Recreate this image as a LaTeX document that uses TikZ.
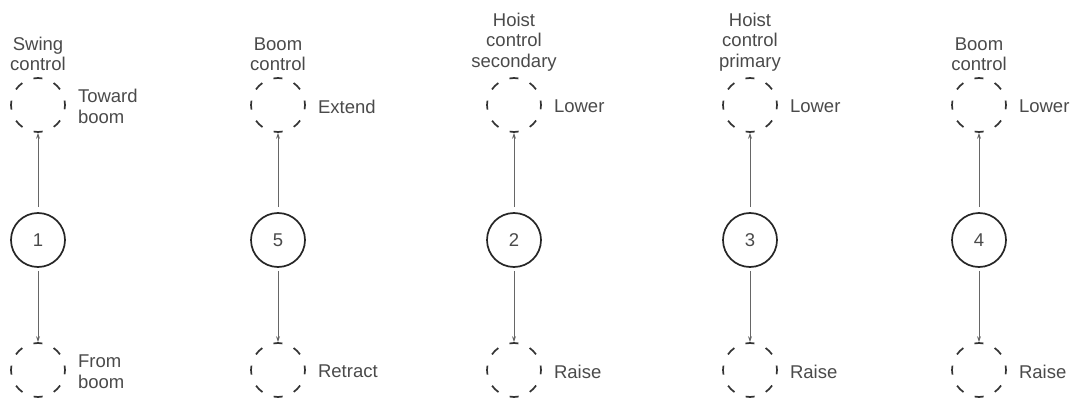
\documentclass[tikz,border=0pt]{standalone}
\usepackage{fontspec}
\setmainfont{Liberation Sans}
\usetikzlibrary{positioning,arrows.meta}
\definecolor{txtgray}{HTML}{4A4A4A}
\begin{document}
\begin{tikzpicture}[x=1pt,y=-1pt,
  ctrl/.style={circle,draw=black!85,line width=1.7pt,minimum size=54pt,inner sep=0pt,text=txtgray,font=\fontsize{18.5}{20.5}\selectfont},
  posn/.style={circle,draw=black!80,line width=1.7pt,minimum size=54pt,inner sep=0pt,dash pattern=on 9pt off 12.2pt,dash phase=4.5pt},
  lbl/.style={text=txtgray,font=\fontsize{18.5}{20.5}\selectfont,align=left,inner sep=0pt},
  ttl/.style={lbl,align=center},
  move/.style={draw=black!60,line width=0.8pt,-{Stealth[length=6pt,width=4pt]}}]
  \useasboundingbox (0,0) rectangle (1070,398);
  % one column per control lever
  \foreach \x/\n/\ttltext/\uptext/\dntext in {
    38/1/{Swing\\control}/{Toward\\boom}/{From\\boom},
    278/5/{Boom\\control}/Extend/Retract,
    514/2/{Hoist\\control\\secondary}/Lower/Raise,
    750/3/{Hoist\\control\\primary}/Lower/Raise,
    979/4/{Boom\\control}/Lower/Raise}{
    \node[ctrl] (c\n) at (\x,240) {\n};
    \node[posn] (up\n) at (\x,105) {};
    \node[posn] (dn\n) at (\x,370) {};
    \node[ttl,above=6pt of up\n] (t\n) {\ttltext};
    \node[lbl,right=12pt of up\n,yshift=-1.5pt] (u\n) {\uptext};
    \node[lbl,right=12pt of dn\n,yshift=-1.5pt] (d\n) {\dntext};
    % lever movements
    \draw[move,shorten <=5pt] (c\n) -- (up\n);
    \draw[move,shorten <=3pt] (c\n) -- (dn\n);
  }
\end{tikzpicture}
\end{document}
